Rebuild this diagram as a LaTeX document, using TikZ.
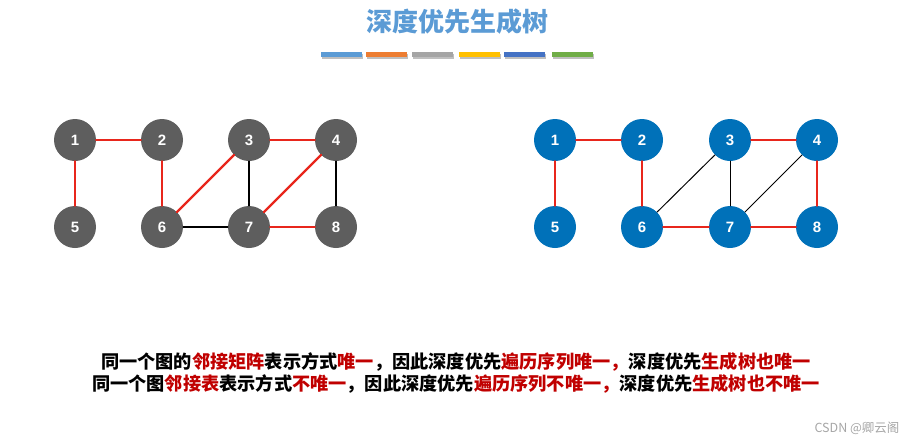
\documentclass[tikz,border=0pt]{standalone}
\usepackage{fontspec}
\setmainfont{Liberation Sans}
\newfontfamily\cjk{Noto Sans CJK SC}
\definecolor{TitleBlue}{HTML}{5B9BD5}
\definecolor{NodeGray}{HTML}{5E5E5E}
\definecolor{NodeBlue}{HTML}{0071B9}
\definecolor{EdgeRed}{HTML}{E8261C}
\definecolor{TextRed}{HTML}{C00000}
\tikzset{vtx/.style={circle,minimum size=42pt,inner sep=0pt,text=white,font=\fontsize{15}{15}\selectfont\bfseries},
  tree/.style={EdgeRed,line width=2.2pt},rest/.style={black,line width=1.3pt}}
\newcommand{\hl}[1]{\textcolor{TextRed}{#1}}

\begin{document}
\begin{tikzpicture}[x=1pt,y=-1pt,line cap=round,line join=round]
  \useasboundingbox (0,0) rectangle (922,445);
  \node[TitleBlue,font=\cjk\fontsize{26}{26}\selectfont\bfseries] (title) at (457,22) {深度优先生成树};
  \foreach \a/\b/\c in {321/362/5B9BD5,366/407/ED7D31,412/453/A5A5A5,459/500/FFC000,504/545/4472C4,552/593/70AD47}
    {\definecolor{bar}{HTML}{\c}\fill[black!25] (\a+1,53.5) rectangle (\b+1,58.5); \fill[bar] (\a,52) rectangle (\b,57);}
  % left graph: adjacency matrix
  \foreach \n/\x/\y in {1/75/140,2/162/140,3/249/140,4/336/140,5/75/227,6/162/227,7/249/227,8/336/227}
    \node[vtx,fill=NodeGray] (L\n) at (\x,\y) {\n};
  \foreach \u/\v in {1/2,1/5,2/6,6/3,3/4,4/7,7/8} \draw[tree] (L\u)--(L\v);
  \foreach \u/\v in {6/7,3/7,4/8} \draw[rest] (L\u)--(L\v);
  % right graph: adjacency list
  \foreach \n/\x/\y in {1/555/140,2/642/140,3/730/140,4/817/140,5/555/227,6/642/227,7/730/227,8/817/227}
    \node[vtx,fill=NodeBlue] (R\n) at (\x,\y) {\n};
  \foreach \u/\v in {1/2,1/5,2/6,6/7,7/8,3/4,4/8} \draw[tree] (R\u)--(R\v);
  \foreach \u/\v in {3/6,3/7,4/7} \draw[rest,line width=1pt] (R\u)--(R\v);
  \node[font=\cjk\fontsize{18.2}{18.2}\selectfont\bfseries] (line1) at (456,362)
    {同一个图的\hl{邻接矩阵}表示方式\hl{唯一}，因此深度优先\hl{遍历序列唯一，}深度优先\hl{生成树也唯一}};
  \node[font=\cjk\fontsize{18.2}{18.2}\selectfont\bfseries] (line2) at (456,384)
    {同一个图\hl{邻接表}表示方式\hl{不唯一}，因此深度优先\hl{遍历序列不唯一，}深度优先\hl{生成树也不唯一}};
  \node[gray!70,font=\cjk\fontsize{12.5}{12.5}\selectfont] (mark) at (857,428) {CSDN @卿云阁};
\end{tikzpicture}
\end{document}
